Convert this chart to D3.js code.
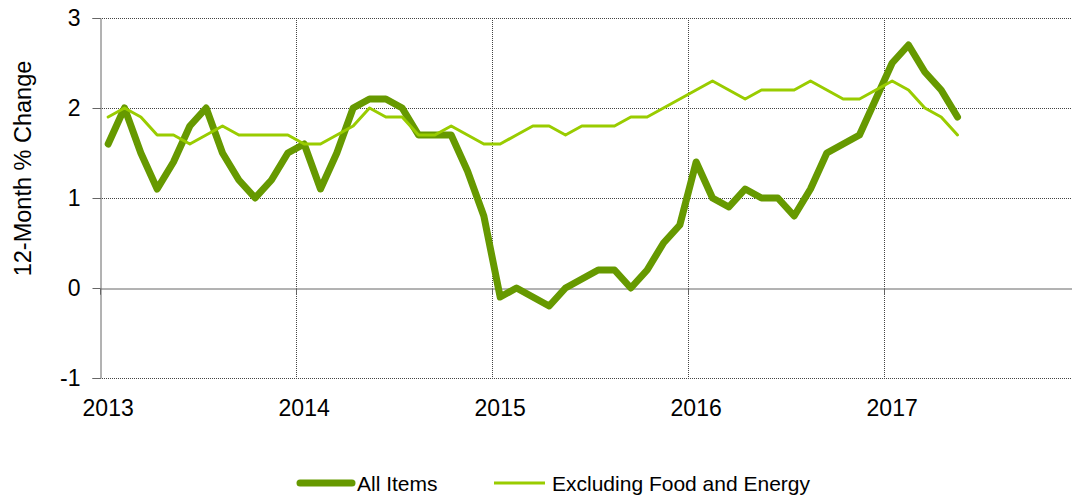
<!DOCTYPE html>
<html>
<head>
<meta charset="utf-8">
<script src="https://cdn.jsdelivr.net/npm/d3@7"></script>
<style>
  html, body { margin: 0; padding: 0; background: #fff; overflow: hidden; }
  svg { display: block; font-family: Arial, "Liberation Sans", sans-serif; }
</style>
</head>
<body>
<svg id="chart" width="1072" height="495"></svg>
<script>
// ---- Data (monthly, Jan 2013 – May 2017) ----
const years = ["2013", "2014", "2015", "2016", "2017"];
const yTicks = [-1, 0, 1, 2, 3];
const seriesNames = ["All Items", "Excluding Food and Energy"];
const allItems = [
  1.6, 2.0, 1.5, 1.1, 1.4, 1.8, 2.0, 1.5, 1.2, 1.0, 1.2, 1.5,
  1.6, 1.1, 1.5, 2.0, 2.1, 2.1, 2.0, 1.7, 1.7, 1.7, 1.3, 0.8,
  -0.1, 0.0, -0.1, -0.2, 0.0, 0.1, 0.2, 0.2, 0.0, 0.2, 0.5, 0.7,
  1.4, 1.0, 0.9, 1.1, 1.0, 1.0, 0.8, 1.1, 1.5, 1.6, 1.7, 2.1,
  2.5, 2.7, 2.4, 2.2, 1.9
];
const coreItems = [
  1.9, 2.0, 1.9, 1.7, 1.7, 1.6, 1.7, 1.8, 1.7, 1.7, 1.7, 1.7,
  1.6, 1.6, 1.7, 1.8, 2.0, 1.9, 1.9, 1.7, 1.7, 1.8, 1.7, 1.6,
  1.6, 1.7, 1.8, 1.8, 1.7, 1.8, 1.8, 1.8, 1.9, 1.9, 2.0, 2.1,
  2.2, 2.3, 2.2, 2.1, 2.2, 2.2, 2.2, 2.3, 2.2, 2.1, 2.1, 2.2,
  2.3, 2.2, 2.0, 1.9, 1.7
];

const svg = d3.select("#chart");
const L = 100, R = 1080, T = 18, B = 378;

const x = d3.scaleLinear().domain([0, 60]).range([L, R]);
const y = d3.scaleLinear().domain([-1, 3]).range([B, T]);
const yearIdx = years.map((d, i) => i * 12);

// Horizontal gridlines (dotted), skipping zero
svg.append("g").selectAll("line").data(yTicks.filter(v => v !== 0)).join("line")
  .attr("x1", L).attr("x2", R)
  .attr("y1", d => Math.round(y(d)) + 0.5).attr("y2", d => Math.round(y(d)) + 0.5)
  .attr("stroke", "#444").attr("stroke-width", 1).attr("stroke-dasharray", "1,1");

// Vertical gridlines (dotted)
svg.append("g").selectAll("line").data(yearIdx.slice(1)).join("line")
  .attr("x1", d => Math.round(x(d)) + 0.5).attr("x2", d => Math.round(x(d)) + 0.5)
  .attr("y1", T).attr("y2", B)
  .attr("stroke", "#444").attr("stroke-width", 1).attr("stroke-dasharray", "1,1");

// Y axis
const yAxis = d3.axisLeft(y).tickValues(yTicks).tickSize(8).tickPadding(12)
  .tickFormat(d => String(d));
const gy = svg.append("g").attr("transform", `translate(${L + 0.5},0)`).call(yAxis);
gy.select(".domain").attr("stroke", "#666");
gy.selectAll(".tick line").attr("stroke", "#666");
gy.selectAll(".tick text").attr("font-size", 23).attr("fill", "#000")
  .attr("font-family", "Arial, 'Liberation Sans', sans-serif");

// Zero axis line with ticks
const xAxis = d3.axisBottom(x).tickValues(yearIdx.concat([60])).tickSize(6).tickFormat("");
const gx = svg.append("g").attr("transform", `translate(0,${Math.round(y(0)) + 0.5})`).call(xAxis);
gx.select(".domain").attr("stroke", "#666");
gx.selectAll(".tick line").attr("stroke", "#666");

// Year labels
svg.append("g").selectAll("text").data(years).join("text")
  .attr("x", (d, i) => x(yearIdx[i] + 0.5))
  .attr("y", 416)
  .attr("text-anchor", "middle")
  .attr("font-size", 23).attr("fill", "#000")
  .text(d => d);

// Y title
svg.append("text")
  .attr("transform", `translate(31,168.5) rotate(-90)`)
  .attr("text-anchor", "middle")
  .attr("font-size", 23.5).attr("fill", "#000")
  .text("12-Month % Change");

// Lines
const line = d3.line().x((d, i) => x(i + 0.5)).y(d => y(d));
const series = [
  { name: seriesNames[0], values: allItems, color: "#669900", width: 7 },
  { name: seriesNames[1], values: coreItems, color: "#99CC00", width: 3 }
];
svg.append("g").selectAll("path").data(series).join("path")
  .attr("d", d => line(d.values))
  .attr("fill", "none")
  .attr("stroke", d => d.color)
  .attr("stroke-width", d => d.width)
  .attr("stroke-linejoin", "round")
  .attr("stroke-linecap", "round");

// Legend
const legendItems = [
  { s: series[0], x1: 300, x2: 352, tx: 357 },
  { s: series[1], x1: 494, x2: 545, tx: 552 }
];
const lg = svg.append("g");
legendItems.forEach(it => {
  lg.append("line")
    .attr("x1", it.x1).attr("x2", it.x2).attr("y1", 483).attr("y2", 483)
    .attr("stroke", it.s.color).attr("stroke-width", it.s.width)
    .attr("stroke-linecap", it.s.width > 4 ? "round" : "butt");
  lg.append("text")
    .attr("x", it.tx).attr("y", 490.5)
    .attr("font-size", 21).attr("fill", "#000")
    .text(it.s.name);
});
</script>
</body>
</html>
